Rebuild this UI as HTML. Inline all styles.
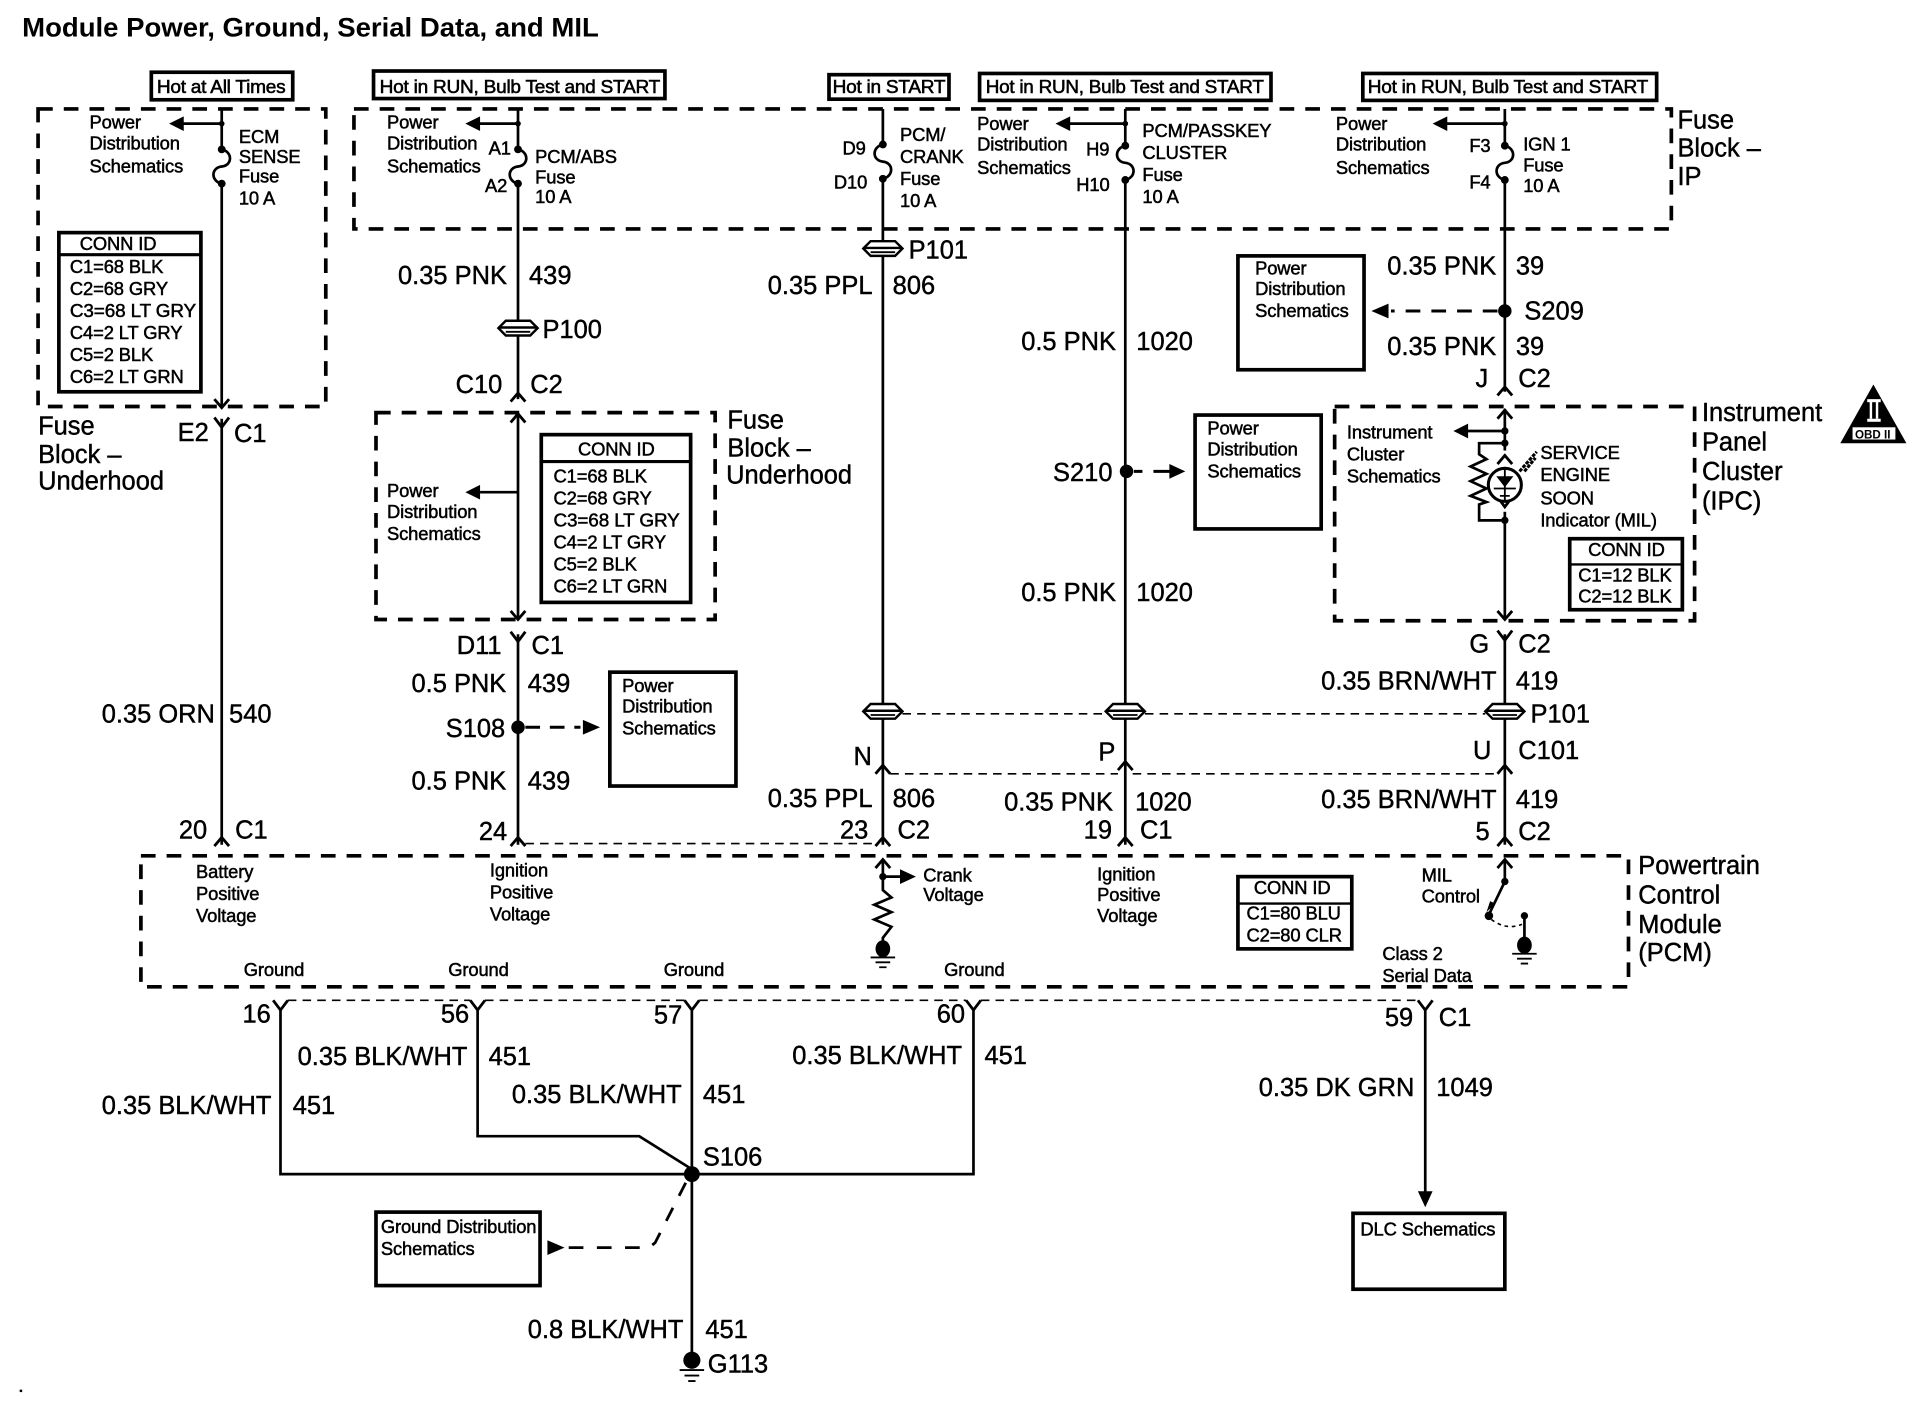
<!DOCTYPE html>
<html><head><meta charset="utf-8"><title>Module Power, Ground, Serial Data, and MIL</title>
<style>
html,body{margin:0;padding:0;background:#fff}
svg{display:block}
text{font-family:"Liberation Sans",sans-serif;fill:#000;stroke:#000;stroke-width:.35}
.l{font-size:20.8px}
.s{font-size:15px;letter-spacing:-.1px;stroke-width:.4}
.b{font-size:15px;letter-spacing:-.2px;stroke-width:.45}
.t{font-size:22px;font-weight:bold;stroke-width:0}
.w{fill:none;stroke:#000;stroke-width:2.2}
.d{fill:none;stroke:#000;stroke-width:3;stroke-dasharray:12 9}
.n{fill:none;stroke:#000;stroke-width:1.3;stroke-dasharray:7 5}
.r{fill:#fff;stroke:#000;stroke-width:3}
</style></head><body>
<svg xmlns="http://www.w3.org/2000/svg" width="1920" height="1408" viewBox="0 0 1568 1150">
<defs>
<g id="cd"><path d="M-6,-7 L0,0 L6,-7" fill="none" stroke="#000" stroke-width="2.3"/></g>
<g id="cu"><path d="M-6,7 L0,0 L6,7" fill="none" stroke="#000" stroke-width="2.3"/></g>
<g id="y"><path d="M-6,-8 L0,0 L6,-8" fill="none" stroke="#000" stroke-width="2.3"/></g>
<g id="pc"><path d="M-16,0 L-10,-6 L10,-6 L16,0 L10,6 L-10,6 Z" fill="#fff" stroke="#000" stroke-width="2"/><path d="M-16,-.5 H16" stroke="#000" stroke-width="2"/><path d="M-10,3 H10" stroke="#000" stroke-width="1.500"/></g>
<g id="gnd"><circle cx="0" cy="0" r="7" fill="#000"/><path d="M-10,8 H10 M-6,12.5 H6 M-3,17 H3" stroke="#000" stroke-width="1.500"/></g>
</defs>

<text class="t" x="18" y="30" textLength="471" lengthAdjust="spacingAndGlyphs">Module Power, Ground, Serial Data, and MIL</text>

<!-- header boxes -->
<rect class="r" x="123.500" y="59" width="115.500" height="22.500"/>
<rect class="r" x="305" y="58" width="238" height="22.500"/>
<rect class="r" x="677" y="61" width="98" height="20"/>
<rect class="r" x="800" y="60" width="238" height="22"/>
<rect class="r" x="1113" y="60" width="240" height="22"/>
<text class="b" x="128" y="76" textLength="105" lengthAdjust="spacingAndGlyphs">Hot at All Times</text>
<text class="b" x="310" y="76" textLength="229" lengthAdjust="spacingAndGlyphs">Hot in RUN, Bulb Test and START</text>
<text class="b" x="680" y="76" textLength="92" lengthAdjust="spacingAndGlyphs">Hot in START</text>
<text class="b" x="805" y="76" textLength="227" lengthAdjust="spacingAndGlyphs">Hot in RUN, Bulb Test and START</text>
<text class="b" x="1117" y="76" textLength="229" lengthAdjust="spacingAndGlyphs">Hot in RUN, Bulb Test and START</text>

<!-- dashed enclosures -->
<rect class="d" x="31" y="89" width="235" height="243"/>
<rect class="d" x="289" y="89" width="1076" height="98"/>
<rect class="d" x="307" y="337" width="277" height="169"/>
<rect class="d" x="1090" y="332" width="294" height="175"/>
<rect class="d" x="115" y="699" width="1215" height="107"/>

<!-- main wires -->
<path class="w" d="M181,89 V122 M181,150 V333 M181,342 V690"/>
<path class="w" d="M423,89 V122 M423,150 V326 M423,337 V506 M423,518 V690"/>
<path class="w" d="M721,89 V118 M721,146 V690"/>
<path class="w" d="M919,89 V119 M919,147 V690"/>
<path class="w" d="M1229,89 V119 M1229,147 V320 M1229,334 V506 M1229,518 V690"/>

<!-- fuses -->
<g fill="none" stroke="#000" stroke-width="2.200">
<path d="M181,122 C190,124 190,135 181,136 C172,137 172,148 181,150"/>
<path d="M423,122 C432,124 432,135 423,136 C414,137 414,148 423,150"/>
<path d="M721,118 C712,120 712,131 721,132 C730,133 730,144 721,146"/>
<path d="M919,119 C910,121 910,132 919,133 C928,134 928,145 919,147"/>
<path d="M1229,119 C1238,121 1238,132 1229,133 C1220,134 1220,145 1229,147"/>
</g>
<g fill="#000">
<circle cx="181" cy="122" r="3.200"/><circle cx="181" cy="150" r="3.200"/>
<circle cx="423" cy="122" r="3.200"/><circle cx="423" cy="150" r="3.200"/>
<circle cx="721" cy="118" r="3.200"/><circle cx="721" cy="146" r="3.200"/>
<circle cx="919" cy="119" r="3.200"/><circle cx="919" cy="147" r="3.200"/>
<circle cx="1229" cy="119" r="3.200"/><circle cx="1229" cy="147" r="3.200"/>
<circle cx="181" cy="101" r="2.300"/><circle cx="423" cy="101" r="2.300"/><circle cx="919" cy="101" r="2.300"/><circle cx="1229" cy="101" r="2.300"/>
</g>

<!-- branch arrows -->
<g fill="#000" stroke="#000" stroke-width="2.200">
<path d="M181,101 H148"/><path d="M138,101 L150,95 V107 Z" stroke-width="0"/>
<path d="M423,101 H390"/><path d="M380,101 L392,95 V107 Z" stroke-width="0"/>
<path d="M919,101 H873"/><path d="M862,101 L874,95 V107 Z" stroke-width="0"/>
<path d="M1229,101 H1181"/><path d="M1170,101 L1182,95 V107 Z" stroke-width="0"/>
<path d="M423,402 H392"/><path d="M380,402 L392,396 V408 Z" stroke-width="0"/>
<path d="M1229,352 H1198"/><path d="M1187,352 L1199,346 V358 Z" stroke-width="0"/>
</g>

<!-- conn chevrons -->
<use href="#cd" x="181" y="333"/><use href="#y" x="181" y="349"/><use href="#cu" x="181" y="684"/>
<use href="#cu" x="423" y="321"/><use href="#cu" x="423" y="338"/><use href="#cd" x="423" y="506"/><use href="#y" x="423" y="524"/><use href="#cu" x="423" y="684"/>
<use href="#cu" x="721" y="625"/><use href="#cu" x="721" y="684"/>
<use href="#cu" x="919" y="622"/><use href="#cu" x="919" y="684"/>
<use href="#cu" x="1229" y="316"/><use href="#cu" x="1229" y="335"/><use href="#cd" x="1229" y="506"/><use href="#y" x="1229" y="523"/><use href="#cu" x="1229" y="625"/><use href="#cu" x="1229" y="684"/>
<use href="#cu" x="721" y="702"/><use href="#cu" x="1229" y="702"/>

<!-- inline connectors -->
<use href="#pc" x="423" y="268"/><use href="#pc" x="721" y="203"/><use href="#pc" x="721" y="581"/><use href="#pc" x="919" y="581"/><use href="#pc" x="1229" y="581"/>

<!-- thin dashed -->
<path class="n" d="M737,583 H903 M935,583 H1213"/>
<path class="n" d="M727,632 H913 M925,632 H1223"/>
<path class="n" d="M429,689 H715"/>
<path class="n" d="M235,817 H384 M396,817 H560 M571,817 H789 M801,817 H1158"/>

<!-- Left col text -->
<text class="s" x="73" y="105">Power</text><text class="s" x="73" y="122">Distribution</text><text class="s" x="73" y="141">Schematics</text>
<text class="s" x="195" y="117">ECM</text><text class="s" x="195" y="133">SENSE</text><text class="s" x="195" y="149">Fuse</text><text class="s" x="195" y="167">10 A</text>
<rect class="r" x="48" y="190" width="116" height="130"/><path d="M48,208 H164" stroke="#000" stroke-width="2.500"/>
<text class="s" x="65" y="204">CONN ID</text>
<text class="s" x="57" y="223">C1=68 BLK</text><text class="s" x="57" y="241">C2=68 GRY</text><text class="s" x="57" y="259" textLength="103" lengthAdjust="spacingAndGlyphs">C3=68 LT GRY</text><text class="s" x="57" y="277">C4=2 LT GRY</text><text class="s" x="57" y="295">C5=2 BLK</text><text class="s" x="57" y="313">C6=2 LT GRN</text>
<text class="l" x="31" y="355">Fuse</text><text class="l" x="31" y="378">Block –</text><text class="l" x="31" y="400">Underhood</text>
<text class="l" x="145" y="360">E2</text><text class="l" x="191" y="361">C1</text>
<text class="l" x="83" y="590">0.35 ORN</text><text class="l" x="187" y="590">540</text>
<text class="l" x="146" y="685">20</text><text class="l" x="192" y="685">C1</text>

<!-- col 2 text -->
<text class="s" x="316" y="105">Power</text><text class="s" x="316" y="122">Distribution</text><text class="s" x="316" y="141">Schematics</text>
<text class="s" x="399" y="126">A1</text><text class="s" x="396" y="157">A2</text>
<text class="s" x="437" y="133">PCM/ABS</text><text class="s" x="437" y="150">Fuse</text><text class="s" x="437" y="166">10 A</text>
<text class="l" x="325" y="232">0.35 PNK</text><text class="l" x="432" y="232">439</text>
<text class="l" x="443" y="276">P100</text>
<text class="l" x="372" y="321">C10</text><text class="l" x="433" y="321">C2</text>
<text class="l" x="594" y="350">Fuse</text><text class="l" x="594" y="373">Block –</text><text class="l" x="593" y="395">Underhood</text>
<text class="s" x="316" y="406">Power</text><text class="s" x="316" y="423">Distribution</text><text class="s" x="316" y="441">Schematics</text>
<rect class="r" x="442" y="355" width="122" height="137"/><path d="M442,377 H564" stroke="#000" stroke-width="2.500"/>
<text class="s" x="472" y="372">CONN ID</text>
<text class="s" x="452" y="394">C1=68 BLK</text><text class="s" x="452" y="412">C2=68 GRY</text><text class="s" x="452" y="430" textLength="103" lengthAdjust="spacingAndGlyphs">C3=68 LT GRY</text><text class="s" x="452" y="448">C4=2 LT GRY</text><text class="s" x="452" y="466">C5=2 BLK</text><text class="s" x="452" y="484">C6=2 LT GRN</text>
<text class="l" x="373" y="534">D11</text><text class="l" x="434" y="534">C1</text>
<text class="l" x="336" y="565">0.5 PNK</text><text class="l" x="431" y="565">439</text>
<text class="l" x="364" y="602">S108</text>
<circle cx="423" cy="594" r="5.500" fill="#000"/>
<path d="M429,594 H474" fill="none" stroke="#000" stroke-width="2.500" stroke-dasharray="12 8"/><path d="M490,594 L476,588 V600 Z" fill="#000"/>
<rect class="r" x="498" y="549" width="103" height="93"/>
<text class="s" x="508" y="565">Power</text><text class="s" x="508" y="582">Distribution</text><text class="s" x="508" y="600">Schematics</text>
<text class="l" x="336" y="645">0.5 PNK</text><text class="l" x="431" y="645">439</text>
<text class="l" x="391" y="686">24</text>

<!-- col 3 text -->
<text class="s" x="688" y="126">D9</text><text class="s" x="681" y="154">D10</text>
<text class="s" x="735" y="115">PCM/</text><text class="s" x="735" y="133">CRANK</text><text class="s" x="735" y="151">Fuse</text><text class="s" x="735" y="169">10 A</text>
<text class="l" x="742" y="211">P101</text>
<text class="l" x="627" y="240">0.35 PPL</text><text class="l" x="729" y="240">806</text>
<text class="l" x="697" y="625">N</text>
<text class="l" x="627" y="659">0.35 PPL</text><text class="l" x="729" y="659">806</text>
<text class="l" x="686" y="685">23</text><text class="l" x="733" y="685">C2</text>

<!-- col 4 text -->
<text class="s" x="798" y="106">Power</text><text class="s" x="798" y="123">Distribution</text><text class="s" x="798" y="142">Schematics</text>
<text class="s" x="887" y="127">H9</text><text class="s" x="879" y="156">H10</text>
<text class="s" x="933" y="112">PCM/PASSKEY</text><text class="s" x="933" y="130">CLUSTER</text><text class="s" x="933" y="148">Fuse</text><text class="s" x="933" y="166">10 A</text>
<text class="l" x="834" y="286">0.5 PNK</text><text class="l" x="928" y="286">1020</text>
<text class="l" x="860" y="393">S210</text>
<circle cx="920" cy="385" r="5.500" fill="#000"/>
<path d="M926,385 H933 M942,385 H956" fill="none" stroke="#000" stroke-width="2.500"/><path d="M968,385 L955,379 V391 Z" fill="#000"/>
<rect class="r" x="976" y="339" width="103" height="93"/>
<text class="s" x="986" y="355">Power</text><text class="s" x="986" y="372">Distribution</text><text class="s" x="986" y="390">Schematics</text>
<text class="l" x="834" y="491">0.5 PNK</text><text class="l" x="928" y="491">1020</text>
<text class="l" x="897" y="621">P</text>
<text class="l" x="820" y="662">0.35 PNK</text><text class="l" x="927" y="662">1020</text>
<text class="l" x="885" y="685">19</text><text class="l" x="931" y="685">C1</text>

<!-- col 5 text -->
<text class="s" x="1091" y="106">Power</text><text class="s" x="1091" y="123">Distribution</text><text class="s" x="1091" y="142">Schematics</text>
<text class="s" x="1200" y="124">F3</text><text class="s" x="1200" y="154">F4</text>
<text class="s" x="1244" y="123">IGN 1</text><text class="s" x="1244" y="140">Fuse</text><text class="s" x="1244" y="157">10 A</text>
<text class="l" x="1370" y="105">Fuse</text><text class="l" x="1370" y="128">Block –</text><text class="l" x="1370" y="151">IP</text>
<text class="l" x="1133" y="224">0.35 PNK</text><text class="l" x="1238" y="224">39</text>
<text class="l" x="1245" y="261">S209</text>
<circle cx="1229" cy="254" r="5.500" fill="#000"/>
<path d="M1223,254 H1136" fill="none" stroke="#000" stroke-width="2.500" stroke-dasharray="12 9"/><path d="M1120,254 L1134,248 V260 Z" fill="#000"/>
<rect class="r" x="1011" y="209" width="103" height="93"/>
<text class="s" x="1025" y="224">Power</text><text class="s" x="1025" y="241">Distribution</text><text class="s" x="1025" y="259">Schematics</text>
<text class="l" x="1133" y="290">0.35 PNK</text><text class="l" x="1238" y="290">39</text>
<text class="l" x="1205" y="316">J</text><text class="l" x="1240" y="316">C2</text>

<!-- IPC -->
<text class="s" x="1100" y="358">Instrument</text><text class="s" x="1100" y="376">Cluster</text><text class="s" x="1100" y="394">Schematics</text>
<circle cx="1229" cy="352" r="3" fill="#000"/><circle cx="1229" cy="362" r="3" fill="#000"/><circle cx="1229" cy="425" r="3" fill="#000"/>
<rect x="1222" y="368" width="14" height="50" fill="#fff"/>
<path class="w" d="M1229,362 H1208 V371 L1214,375 L1201,381 L1214,387 L1201,393 L1214,399 L1201,405 L1214,410 L1208,412 V425 H1229"/>
<use href="#cu" x="1229" y="372"/><use href="#y" x="1229" y="414"/>
<circle cx="1229" cy="396" r="13.500" fill="#fff" stroke="#000" stroke-width="2.500"/>
<path d="M1222,389 H1236 L1229,398 Z" fill="#000"/><path d="M1220,399 H1238 M1229,383 V409 M1225,405 H1233" stroke="#000" stroke-width="1.500"/>
<path d="M1241,385 L1255,369 M1245,385 L1254,374" stroke="#000" stroke-width="2.500" stroke-dasharray="3 1"/>
<text class="s" x="1258" y="375">SERVICE</text><text class="s" x="1258" y="393">ENGINE</text><text class="s" x="1258" y="412">SOON</text><text class="s" x="1258" y="430">Indicator (MIL)</text>
<rect class="r" x="1282" y="440" width="92" height="58"/><path d="M1282,461 H1374" stroke="#000" stroke-width="2"/>
<text class="s" x="1297" y="454">CONN ID</text><text class="s" x="1289" y="475">C1=12 BLK</text><text class="s" x="1289" y="492">C2=12 BLK</text>
<text class="l" x="1390" y="344">Instrument</text><text class="l" x="1390" y="368">Panel</text><text class="l" x="1390" y="392">Cluster</text><text class="l" x="1390" y="416">(IPC)</text>
<path d="M1530,314 L1557,362 H1503 Z" fill="#000"/>
<rect x="1525" y="326" width="11" height="2.500" fill="#fff"/><rect x="1525" y="342" width="11" height="2.500" fill="#fff"/><rect x="1527" y="328" width="2" height="14" fill="#fff"/><rect x="1532" y="328" width="2" height="14" fill="#fff"/>
<rect x="1513" y="349" width="35" height="10" fill="#fff"/>
<text x="1515" y="358" style="font-size:9.5px;font-weight:bold;stroke-width:0">OBD II</text>
<text class="l" x="1200" y="533">G</text><text class="l" x="1240" y="533">C2</text>
<text class="l" x="1079" y="563">0.35 BRN/WHT</text><text class="l" x="1238" y="563">419</text>
<text class="l" x="1250" y="590">P101</text>
<text class="l" x="1203" y="620">U</text><text class="l" x="1240" y="620">C101</text>
<text class="l" x="1079" y="660">0.35 BRN/WHT</text><text class="l" x="1238" y="660">419</text>
<text class="l" x="1205" y="686">5</text><text class="l" x="1240" y="686">C2</text>

<!-- PCM interior -->
<text class="s" x="160" y="717">Battery</text><text class="s" x="160" y="735">Positive</text><text class="s" x="160" y="753">Voltage</text>
<text class="s" x="400" y="716">Ignition</text><text class="s" x="400" y="734">Positive</text><text class="s" x="400" y="752">Voltage</text>
<text class="s" x="896" y="719">Ignition</text><text class="s" x="896" y="736">Positive</text><text class="s" x="896" y="753">Voltage</text>
<text class="s" x="754" y="720">Crank</text><text class="s" x="754" y="736">Voltage</text>
<path d="M721,702 V727 L728,733 L714,739 L728,745 L714,751 L728,757 L721,766 V770" class="w"/>
<circle cx="721" cy="716" r="3" fill="#000"/><path d="M721,716 H736" stroke="#000" stroke-width="2.200"/><path d="M748,716 L735,710 V722 Z" fill="#000"/>
<ellipse cx="721" cy="775" rx="6" ry="7" fill="#000"/><path d="M711,782 H731 M715,786 H727 M718,790 H724" stroke="#000" stroke-width="1.500"/>
<rect class="r" x="1011" y="716" width="93" height="59"/><path d="M1011,738 H1104" stroke="#000" stroke-width="2"/>
<text class="s" x="1024" y="730">CONN ID</text><text class="s" x="1018" y="751">C1=80 BLU</text><text class="s" x="1018" y="769">C2=80 CLR</text>
<text class="s" x="1161" y="720">MIL</text><text class="s" x="1161" y="737">Control</text>
<path class="w" d="M1229,702 V720 L1216,747"/>
<path d="M1214,745 L1217,736 L1221,738 Z" fill="#000"/>
<circle cx="1229" cy="720" r="3" fill="#000"/><circle cx="1216" cy="748" r="3.500" fill="#000"/><circle cx="1245" cy="748" r="3" fill="#000"/>
<path d="M1218,751 Q1230,760 1243,755" fill="none" stroke="#000" stroke-width="1.300" stroke-dasharray="3 3"/>
<path class="w" d="M1245,748 V768"/>
<ellipse cx="1245" cy="772" rx="6" ry="7" fill="#000"/><path d="M1235,779 H1255 M1239,783 H1251 M1242,787 H1248" stroke="#000" stroke-width="1.500"/>
<text class="s" x="1129" y="784">Class 2</text><text class="s" x="1129" y="802">Serial Data</text>
<text class="s" x="199" y="797">Ground</text><text class="s" x="366" y="797">Ground</text><text class="s" x="542" y="797">Ground</text><text class="s" x="771" y="797">Ground</text>
<text class="l" x="1338" y="714">Powertrain</text><text class="l" x="1338" y="738">Control</text><text class="l" x="1338" y="762">Module</text><text class="l" x="1338" y="785">(PCM)</text>

<!-- lower wiring -->
<path class="w" d="M229,824 V959 H795 V824"/>
<path class="w" d="M390,824 V928 H522 L565,955"/>
<path class="w" d="M565,824 V1105"/>
<path class="w" d="M1164,824 V975"/>
<use href="#y" x="229" y="825"/><use href="#y" x="390" y="825"/><use href="#y" x="565" y="825"/><use href="#y" x="795" y="825"/><use href="#y" x="1164" y="825"/>
<path d="M1164,986 L1158,973 H1170 Z" fill="#000"/>
<circle cx="565" cy="959" r="6.500" fill="#000"/>
<use href="#gnd" x="565" y="1111"/>
<path d="M560,966 L535,1015 L530,1019 H460" fill="none" stroke="#000" stroke-width="2.300" stroke-dasharray="12 11"/>
<path d="M447,1013 V1025 L461,1019 Z" fill="#000"/>
<rect class="r" x="307" y="990" width="134" height="60"/>
<text class="s" x="311" y="1007" textLength="127" lengthAdjust="spacingAndGlyphs">Ground Distribution</text><text class="s" x="311" y="1025">Schematics</text>
<rect class="r" x="1105" y="991" width="124" height="62"/>
<text class="s" x="1111" y="1009">DLC Schematics</text>

<text class="l" x="198" y="835">16</text><text class="l" x="360" y="835">56</text><text class="l" x="534" y="836">57</text><text class="l" x="765" y="835">60</text><text class="l" x="1131" y="838">59</text><text class="l" x="1175" y="838">C1</text>
<text class="l" x="243" y="870">0.35 BLK/WHT</text><text class="l" x="399" y="870">451</text>
<text class="l" x="418" y="901">0.35 BLK/WHT</text><text class="l" x="574" y="901">451</text>
<text class="l" x="647" y="869">0.35 BLK/WHT</text><text class="l" x="804" y="869">451</text>
<text class="l" x="83" y="910">0.35 BLK/WHT</text><text class="l" x="239" y="910">451</text>
<text class="l" x="1028" y="895">0.35 DK GRN</text><text class="l" x="1173" y="895">1049</text>
<text class="l" x="574" y="952">S106</text>
<text class="l" x="431" y="1093">0.8 BLK/WHT</text><text class="l" x="576" y="1093">451</text>
<text class="l" x="578" y="1121">G113</text>
<rect x="16" y="1135" width="2" height="2" fill="#000"/>
</svg>
</body></html>
